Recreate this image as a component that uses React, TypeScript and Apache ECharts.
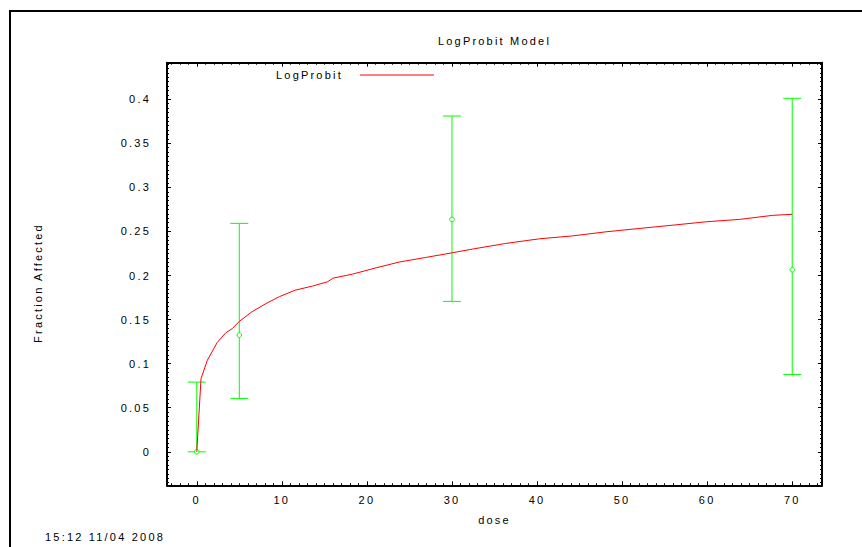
import React, { useEffect, useRef } from "react";
import * as echarts from "echarts";

// ---- data ----
const chartTitle = "LogProbit Model";
const seriesName = "LogProbit";
const xAxisName = "dose";
const yAxisName = "Fraction Affected";
const timestamp = "15:12 11/04 2008";

const curveDose = [0, 0.5, 1.25, 2.4, 3.4, 4.2, 5, 6.5, 8.1, 9.7, 11.6, 13.6, 15.4, 16, 18.3, 21.1, 23.8, 26.9, 29.9, 32.4, 36.3, 40.3, 44.2, 48.1, 52, 56, 59.9, 63.8, 67.7, 70];
const curveFrac = [0, 0.083, 0.104, 0.124, 0.135, 0.14, 0.148, 0.159, 0.168, 0.176, 0.1835, 0.188, 0.193, 0.197, 0.2016, 0.2088, 0.2153, 0.2205, 0.2256, 0.23, 0.2364, 0.2417, 0.245, 0.2496, 0.2534, 0.2572, 0.261, 0.2637, 0.2683, 0.2695];

const obsDose = [0, 5, 30, 70];
const obsFrac = [0, 0.1325, 0.2638, 0.2066];
const obsLow = [0, 0.0606, 0.1707, 0.0878];
const obsHigh = [0.0791, 0.2592, 0.381, 0.4011];

const xMin = -3.5;
const xMax = 73.5;
const yMin = -0.038;
const yMax = 0.4415;

const FONT = "'Liberation Sans', Arial, sans-serif";

export default function App() {
  const ref = useRef<HTMLDivElement>(null);

  useEffect(() => {
    document.body.style.margin = "0";
    const chart = echarts.init(ref.current!, null, { renderer: "svg" });

    const tickCommon = {
      axisLine: { show: true, onZero: false, lineStyle: { color: "#000", width: 2 } },
      axisTick: { show: true, inside: true, length: 4, lineStyle: { color: "#000", width: 1 } },
      minorTick: { show: true, splitNumber: 10, length: 2, lineStyle: { color: "#000", width: 1 } },
      splitLine: { show: false },
      minorSplitLine: { show: false },
    };

    const labelStyle = { color: "#000", fontSize: 11, fontFamily: FONT };

    const option: any = {
      animation: false,
      backgroundColor: "#fff",
      title: {
        text: chartTitle,
        left: 494.5,
        top: 35,
        padding: 0,
        textAlign: "center",
        textStyle: { color: "#000", fontSize: 11, fontWeight: "normal", fontFamily: FONT },
      },
      legend: { show: false },
      grid: { left: 167, top: 62.7, right: 40, bottom: 61.7, containLabel: false, outerBoundsMode: "none" },
      xAxis: [
        {
          type: "value",
          position: "bottom",
          min: xMin,
          max: xMax,
          splitNumber: 8,
          ...tickCommon,
          axisLabel: { ...labelStyle, margin: 9, showMinLabel: false, showMaxLabel: false },
          name: xAxisName,
          nameLocation: "middle",
          nameGap: 29,
          nameTextStyle: { ...labelStyle },
        },
        {
          type: "value",
          position: "top",
          min: xMin,
          max: xMax,
          splitNumber: 8,
          ...tickCommon,
          axisLabel: { show: false },
        },
      ],
      yAxis: [
        {
          type: "value",
          position: "left",
          min: yMin,
          max: yMax,
          splitNumber: 10,
          ...tickCommon,
          axisLabel: { ...labelStyle, margin: 16, showMinLabel: false, showMaxLabel: false },
          name: yAxisName,
          nameLocation: "middle",
          nameRotate: 90,
          nameGap: 124,
          nameTextStyle: { ...labelStyle, padding: [0, 18, 0, 0] },
        },
        {
          type: "value",
          position: "right",
          min: yMin,
          max: yMax,
          splitNumber: 10,
          ...tickCommon,
          axisLabel: { show: false },
        },
      ],
      graphic: [
        {
          type: "rect",
          silent: true,
          shape: { x: 10, y: 11, width: 900, height: 600 },
          style: { fill: "none", stroke: "#000", lineWidth: 2 },
        },
        {
          type: "text",
          silent: true,
          x: 276,
          y: 75,
          style: { text: seriesName, fill: "#000", fontSize: 11, fontFamily: FONT, verticalAlign: "middle", textAlign: "left" },
        },
        {
          type: "line",
          silent: true,
          shape: { x1: 360, y1: 75, x2: 434, y2: 75 },
          style: { stroke: "#ff0000", lineWidth: 1 },
        },
        {
          type: "text",
          silent: true,
          x: 45,
          y: 537,
          style: { text: timestamp, fill: "#000", fontSize: 11, fontFamily: FONT, verticalAlign: "middle", textAlign: "left" },
        },
      ],
      series: [
        {
          type: "custom",
          name: "Observed",
          xAxisIndex: 0,
          yAxisIndex: 0,
          encode: { x: 0, y: [1, 2, 3] },
          data: obsDose.map((d, i) => [d, obsLow[i], obsHigh[i], obsFrac[i]]),
          renderItem: (params: any, api: any) => {
            const x = api.value(0);
            const pLo = api.coord([x, api.value(1)]);
            const pHi = api.coord([x, api.value(2)]);
            const pM = api.coord([x, api.value(3)]);
            const hw = 9;
            const style = { stroke: "#00ff00", lineWidth: 1, fill: "none" };
            return {
              type: "group",
              children: [
                { type: "line", shape: { x1: pLo[0], y1: pLo[1], x2: pHi[0], y2: pHi[1] }, style },
                { type: "line", shape: { x1: pLo[0] - hw, y1: pLo[1], x2: pLo[0] + hw, y2: pLo[1] }, style },
                { type: "line", shape: { x1: pHi[0] - hw, y1: pHi[1], x2: pHi[0] + hw, y2: pHi[1] }, style },
                { type: "circle", shape: { cx: pM[0], cy: pM[1], r: 2.3 }, style: { stroke: "#00ff00", lineWidth: 1, fill: "#fff" } },
              ],
            };
          },
          z: 2,
        },
        {
          type: "line",
          name: seriesName,
          xAxisIndex: 0,
          yAxisIndex: 0,
          data: curveDose.map((d, i) => [d, curveFrac[i]]),
          showSymbol: false,
          symbol: "none",
          lineStyle: { color: "#ff0000", width: 1 },
          itemStyle: { color: "#ff0000" },
          z: 3,
        },
      ],
    };

    chart.setOption(option);
    return () => chart.dispose();
  }, []);

  return (
    <div
      ref={ref}
      style={{ position: "absolute", left: 0, top: 0, width: 862, height: 547, letterSpacing: "2.2px", background: "#fff" }}
    />
  );
}
